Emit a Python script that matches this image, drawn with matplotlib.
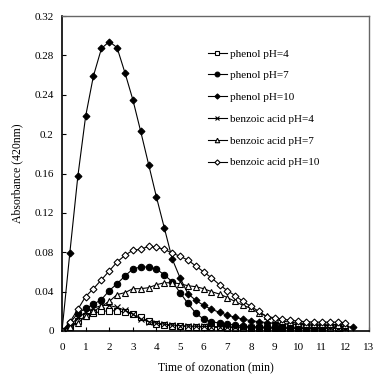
import matplotlib
matplotlib.use("Agg")
import matplotlib.pyplot as plt

plt.rcParams['font.family'] = ['Liberation Serif', 'DejaVu Serif']

time_min = [0, 0.33, 0.67, 1.0, 1.33, 1.67, 2.0, 2.33, 2.67, 3.0, 3.33, 3.67,
            4.0, 4.33, 4.67, 5.0, 5.33, 5.67, 6.0, 6.33, 6.67, 7.0, 7.33, 7.67,
            8.0, 8.33, 8.67, 9.0, 9.33, 9.67, 10.0, 10.33, 10.67, 11.0, 11.33,
            11.67, 12.0, 12.33]

phenol_ph4 = [0, 0.004, 0.010, 0.015, 0.018, 0.020, 0.0205, 0.0205, 0.019, 0.017,
              0.014, 0.010, 0.0075, 0.006, 0.0055, 0.005, 0.0045, 0.004, 0.004,
              0.0038, 0.0036, 0.0035, 0.0034, 0.0033, 0.0032, 0.0031, 0.003, 0.003,
              0.003, 0.0029, 0.0028, 0.0028, 0.0027, 0.0027, 0.0026, 0.0026, 0.0025]
phenol_ph7 = [0, 0.008, 0.018, 0.023, 0.027, 0.032, 0.041, 0.048, 0.056, 0.063,
              0.065, 0.065, 0.063, 0.057, 0.050, 0.039, 0.028, 0.018, 0.012, 0.0095,
              0.008, 0.007, 0.006, 0.005, 0.0045, 0.004, 0.0035, 0.003, 0.003,
              0.0028, 0.0025, 0.0025, 0.0022, 0.002]
phenol_ph10 = [0, 0.079, 0.157, 0.218, 0.259, 0.287, 0.294, 0.288, 0.262, 0.235,
               0.203, 0.169, 0.136, 0.105, 0.073, 0.054, 0.038, 0.031, 0.026, 0.022,
               0.019, 0.016, 0.014, 0.012, 0.0105, 0.0095, 0.0085, 0.008, 0.0075,
               0.007, 0.0068, 0.0065, 0.006, 0.0058, 0.0055, 0.005, 0.0045, 0.004]
benzoic_ph4 = [0, 0.006, 0.013, 0.019, 0.023, 0.026, 0.026, 0.024, 0.021, 0.017,
               0.012, 0.0095, 0.008, 0.007, 0.006, 0.0055, 0.005, 0.0048, 0.0046,
               0.0045, 0.0044, 0.0043, 0.0042, 0.0041, 0.004, 0.004, 0.004, 0.004,
               0.0039, 0.0038, 0.0038, 0.0037, 0.0037, 0.0036, 0.0036, 0.0035, 0.0035]
benzoic_ph7 = [0, 0.004, 0.008, 0.015, 0.020, 0.025, 0.030, 0.037, 0.039, 0.043,
               0.043, 0.044, 0.047, 0.049, 0.049, 0.048, 0.046, 0.045, 0.043, 0.040,
               0.0375, 0.034, 0.030, 0.026, 0.023, 0.0186, 0.015, 0.012, 0.010,
               0.009, 0.008, 0.0075, 0.007, 0.007, 0.0068, 0.0065, 0.0065]
benzoic_ph10 = [0, 0.009, 0.022, 0.035, 0.043, 0.052, 0.061, 0.070, 0.077, 0.082,
                0.083, 0.086, 0.085, 0.083, 0.079, 0.076, 0.072, 0.066, 0.060, 0.054,
                0.047, 0.041, 0.036, 0.030, 0.025, 0.020, 0.0146, 0.0135, 0.012,
                0.011, 0.010, 0.0095, 0.009, 0.009, 0.009, 0.009, 0.0085]

labels = ['phenol pH=4', 'phenol pH=7', 'phenol pH=10',
          'benzoic acid pH=4', 'benzoic acid pH=7', 'benzoic acid pH=10']
series = [phenol_ph4, phenol_ph7, phenol_ph10, benzoic_ph4, benzoic_ph7, benzoic_ph10]
styles = [
    dict(marker='s', ms=3.8, mfc='white', mec='black', mew=0.8),
    dict(marker='o', ms=4.6, mfc='black', mec='black', mew=0.8),
    dict(marker='D', ms=3.5, mfc='black', mec='black', mew=0.8),
    dict(marker='x', ms=4.0, mfc='none', mec='black', mew=0.8),
    dict(marker='^', ms=4.3, mfc='white', mec='black', mew=0.8),
    dict(marker='D', ms=3.5, mfc='white', mec='black', mew=0.8),
]

xticks = list(range(0, 14))
yticks = [0, 0.04, 0.08, 0.12, 0.16, 0.2, 0.24, 0.28, 0.32]
ytick_labels = ['0', '0.04', '0.08', '0.12', '0.16', '0.2', '0.24', '0.28', '0.32']

fig = plt.figure(figsize=(3.74, 3.77), dpi=100)
ax = fig.add_axes([62/374, 46/377, 307/374, 315/377])

handles = []
for y, lab, st in zip(series, labels, styles):
    h, = ax.plot(time_min[:len(y)], y, color='black', lw=0.8, label=lab, **st)
    handles.append(h)

ax.set_xlim(0, 13)
ax.set_ylim(0, 0.32)
ax.set_xticks(xticks)
ax.set_xticklabels([str(v) for v in xticks])
ax.set_yticks(yticks)
ax.set_yticklabels(ytick_labels)
ax.tick_params(direction='in', length=3, width=0.8, labelsize=8)
ax.tick_params(axis='x', pad=9)
ax.tick_params(axis='y', pad=6)
ax.set_xlabel('Time of ozonation (min)', fontsize=8.5, labelpad=7)
ax.set_ylabel('Absorbance (420nm)', fontsize=8.5, labelpad=8)
for s in ['left', 'bottom']:
    ax.spines[s].set_linewidth(1.2)
    ax.spines[s].set_color('black')
for s in ['top', 'right']:
    ax.spines[s].set_linewidth(1.0)
    ax.spines[s].set_color('#666666')

leg = ax.legend(handles=handles, loc='upper left', bbox_to_anchor=(0.46, 0.91),
                frameon=False, fontsize=8, handlelength=1.7, handletextpad=0.35,
                labelspacing=1.08, markerscale=0.75, borderaxespad=0)

fig.savefig('out.png', dpi=100)
